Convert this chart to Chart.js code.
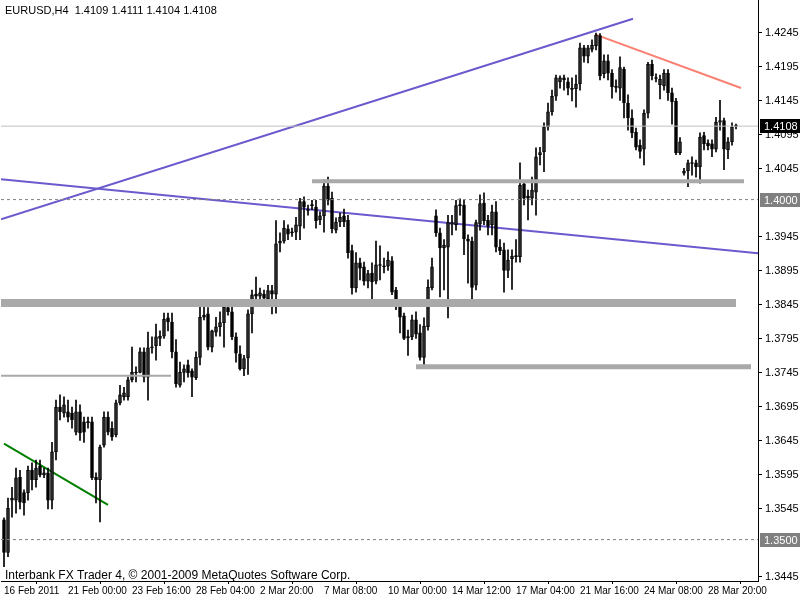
<!DOCTYPE html>
<html><head><meta charset="utf-8">
<script src="https://cdn.jsdelivr.net/npm/chart.js@4"></script>
<style>html,body{margin:0;padding:0;background:#fff}</style>
</head><body><canvas id="c" width="800" height="600"></canvas>
<script>
const opens=[1.3529,1.3481,1.3558,1.3558,1.3592,1.3569,1.3569,1.3602,1.3588,1.3608,1.3595,1.3598,1.3558,1.3629,1.3695,1.3686,1.3688,1.3686,1.3658,1.3688,1.3673,1.3673,1.3673,1.3592,1.3588,1.3639,1.3680,1.3664,1.3654,1.3701,1.3710,1.3710,
1.3735,1.3746,1.3746,1.3776,1.3739,1.3782,1.3785,1.3796,1.3799,1.3826,1.3820,1.3776,1.3727,1.3746,1.3757,1.3748,1.3738,1.3768,1.3830,1.3832,1.3783,1.3805,1.3813,1.3819,1.3841,1.3835,1.3798,1.3773,1.3751,1.3767,1.3832,1.3861,1.3858,
1.3861,1.3854,1.3866,1.3861,1.3936,1.3939,1.3957,1.3952,1.3952,1.3961,1.3997,1.3985,1.3992,1.3989,1.3970,1.3976,1.4020,1.4002,1.3955,1.3967,1.3976,1.3970,1.3925,1.3870,1.3907,1.3901,1.3880,1.3892,1.3880,1.3904,1.3902,1.3902,
1.3910,1.3867,1.3844,1.3829,1.3798,1.3798,1.3823,1.3804,1.3768,1.3813,1.3870,1.3976,1.3951,1.3929,1.3930,1.3964,1.3963,1.3992,1.3992,1.3942,1.3939,1.3874,1.3964,1.3995,1.3970,1.3963,1.3982,1.3930,1.3926,1.3896,1.3913,1.3917,1.3916,
1.4023,1.4005,1.4002,1.4011,1.4066,1.4070,1.4107,1.4129,1.4152,1.4173,1.4179,1.4173,1.4163,1.4163,1.4170,1.4223,1.4211,1.4221,1.4226,1.4241,1.4185,1.4204,1.4186,1.4166,1.4164,1.4192,1.4142,1.4120,1.4099,1.4080,
1.4074,1.4127,1.4199,1.4179,1.4169,1.4167,1.4186,1.4157,1.4145,1.4069,1.4039,1.4042,1.4054,1.4054,1.4048,1.4094,1.4083,1.4082,1.4074,1.4114,1.4116,1.4073,1.4085,1.4109];
const highs=[1.3532,1.3561,1.3577,1.3605,1.3602,1.3573,1.3608,1.3613,1.3617,1.3617,1.3605,1.3605,1.3643,1.3705,1.3713,1.3710,1.3705,1.3695,1.3705,1.3698,1.3680,1.3680,1.3680,1.3598,1.3639,1.3688,1.3688,1.3673,1.3705,1.3727,1.3724,1.3739,
1.3783,1.3754,1.3782,1.3782,1.3805,1.3798,1.3817,1.3807,1.3833,1.3833,1.3833,1.3794,1.3761,1.3757,1.3764,1.3751,1.3776,1.3842,1.3852,1.3841,1.3808,1.3827,1.3835,1.3851,1.3845,1.3845,1.3804,1.3785,1.3771,1.3838,1.3867,1.3886,1.3870,
1.3867,1.3874,1.3874,1.3969,1.3951,1.3969,1.3963,1.3958,1.3974,1.4002,1.4004,1.3992,1.3999,1.3999,1.3982,1.4029,1.4033,1.4011,1.3973,1.3980,1.3986,1.3977,1.3933,1.3922,1.3914,1.3908,1.3896,1.3907,1.3939,1.3932,1.3914,1.3923,
1.3916,1.3871,1.3849,1.3833,1.3808,1.3830,1.3835,1.3816,1.3826,1.3882,1.3914,1.3985,1.3958,1.3941,1.3977,1.3977,1.3999,1.4001,1.3999,1.3948,1.3945,1.3970,1.4007,1.4010,1.3977,1.3992,1.3997,1.3941,1.3936,1.3926,1.3926,1.3941,1.4054,
1.4026,1.4014,1.4033,1.4076,1.4077,1.4113,1.4142,1.4161,1.4183,1.4182,1.4183,1.4179,1.4179,1.4183,1.4230,1.4227,1.4227,1.4235,1.4245,1.4244,1.4213,1.4213,1.4191,1.4176,1.4210,1.4195,1.4154,1.4132,1.4105,1.4088,
1.4132,1.4202,1.4205,1.4185,1.4183,1.4191,1.4191,1.4164,1.4149,1.4091,1.4046,1.4058,1.4063,1.4058,1.4098,1.4099,1.4088,1.4088,1.4121,1.4146,1.4120,1.4091,1.4113,1.4111];
const lows=[1.3460,1.3475,1.3533,1.3539,1.3545,1.3536,1.3558,1.3573,1.3577,1.3592,1.3591,1.3545,1.3545,1.3617,1.3676,1.3680,1.3673,1.3664,1.3654,1.3646,1.3643,1.3664,1.3588,1.3554,1.3526,1.3636,1.3654,1.3646,1.3651,1.3698,1.3705,1.3705,
1.3732,1.3732,1.3745,1.3732,1.3705,1.3774,1.3764,1.3785,1.3796,1.3807,1.3767,1.3724,1.3724,1.3732,1.3739,1.3710,1.3735,1.3757,1.3823,1.3779,1.3776,1.3799,1.3799,1.3783,1.3830,1.3794,1.3761,1.3749,1.3741,1.3743,1.3804,1.3852,1.3852,
1.3845,1.3849,1.3832,1.3833,1.3923,1.3936,1.3941,1.3946,1.3941,1.3941,1.3958,1.3977,1.3985,1.3958,1.3963,1.3952,1.3992,1.3951,1.3951,1.3960,1.3960,1.3914,1.3861,1.3864,1.3882,1.3874,1.3870,1.3854,1.3876,1.3882,1.3892,1.3896,
1.3860,1.3838,1.3804,1.3794,1.3771,1.3794,1.3796,1.3764,1.3757,1.3808,1.3867,1.3946,1.3857,1.3867,1.3826,1.3948,1.3955,1.3977,1.3919,1.3877,1.3854,1.3867,1.3955,1.3963,1.3948,1.3948,1.3923,1.3919,1.3864,1.3885,1.3868,1.3908,1.3908,
1.3992,1.3970,1.3992,1.3977,1.4051,1.4041,1.4102,1.4124,1.4146,1.4164,1.4161,1.4154,1.4145,1.4136,1.4161,1.4202,1.4201,1.4217,1.4220,1.4176,1.4179,1.4176,1.4149,1.4158,1.4146,1.4120,1.4102,1.4091,1.4073,1.4061,
1.4051,1.4120,1.4176,1.4173,1.4148,1.4161,1.4146,1.4111,1.4066,1.4066,1.4036,1.4019,1.4036,1.4033,1.4024,1.4073,1.4073,1.4063,1.4070,1.4102,1.4044,1.4060,1.4080,1.4104];
const closes=[1.3481,1.3546,1.3561,1.3591,1.3555,1.3554,1.3602,1.3588,1.3605,1.3595,1.3598,1.3558,1.3629,1.3695,1.3688,1.3698,1.3680,1.3676,1.3688,1.3657,1.3658,1.3672,1.3591,1.3588,1.3636,1.3680,1.3658,1.3651,1.3701,1.3713,1.3716,1.3735,
1.3746,1.3745,1.3776,1.3739,1.3782,1.3783,1.3798,1.3799,1.3824,1.3820,1.3776,1.3729,1.3746,1.3751,1.3745,1.3739,1.3768,1.3827,1.3827,1.3783,1.3807,1.3813,1.3819,1.3842,1.3835,1.3798,1.3774,1.3751,1.3766,1.3832,1.3860,1.3858,1.3863,
1.3855,1.3866,1.3861,1.3935,1.3939,1.3958,1.3949,1.3951,1.3963,1.3997,1.3989,1.3984,1.3991,1.3969,1.3976,1.4020,1.3999,1.3957,1.3967,1.3974,1.3967,1.3922,1.3870,1.3907,1.3899,1.3880,1.3891,1.3879,1.3904,1.3903,1.3901,1.3911,
1.3864,1.3842,1.3827,1.3796,1.3797,1.3823,1.3802,1.3768,1.3814,1.3871,1.3901,1.3951,1.3929,1.3933,1.3966,1.3966,1.3991,1.3991,1.3942,1.3939,1.3871,1.3966,1.3994,1.3969,1.3961,1.3982,1.3930,1.3925,1.3896,1.3911,1.3917,1.3916,1.4021,
1.4002,1.4002,1.4014,1.4063,1.4069,1.4107,1.4129,1.4152,1.4179,1.4179,1.4176,1.4164,1.4162,1.4170,1.4223,1.4211,1.4223,1.4227,1.4242,1.4182,1.4204,1.4186,1.4166,1.4165,1.4194,1.4142,1.4120,1.4098,1.4077,1.4071,
1.4127,1.4199,1.4182,1.4178,1.4177,1.4186,1.4157,1.4144,1.4069,1.4085,1.4042,1.4054,1.4053,1.4048,1.4092,1.4082,1.4079,1.4074,1.4114,1.4116,1.4074,1.4085,1.4107,1.4108];
const yTicks=[1.4245,1.4195,1.4145,1.4095,1.4045,1.3945,1.3895,1.3845,1.3795,1.3745,1.3695,1.3645,1.3595,1.3545,1.3445];
const xTickIdx=[0,16,32,48,64,80,96,112,128,144,160,176];
const xTickLabels=['16 Feb 2011','21 Feb 00:00','23 Feb 16:00','28 Feb 04:00','2 Mar 20:00','7 Mar 08:00','10 Mar 00:00','14 Mar 12:00','17 Mar 04:00','21 Mar 16:00','24 Mar 08:00','28 Mar 20:00'];
const priceBoxes=[{v:1.4108,bg:'#000000'},{v:1.4000,bg:'#808080'},{v:1.3500,bg:'#808080'}];
const trendBlueUp=[{x:-0.75,y:1.3971},{x:157.25,y:1.4266}];
const trendBlueDown=[{x:-0.75,y:1.4030},{x:188.5,y:1.3921}];
const trendRed=[{x:147.75,y:1.4243},{x:184.25,y:1.4164}];
const trendGreen=[{x:0,y:1.3641},{x:26,y:1.3551}];
const levelA=[{x:77,y:1.4027},{x:185,y:1.4027}];
const levelB=[{x:-0.75,y:1.3848},{x:183,y:1.3848}];
const levelC=[{x:103,y:1.3754},{x:186.75,y:1.3754}];
const levelD=[{x:-0.75,y:1.3741},{x:41.75,y:1.3741}];
const curLine=[{x:-0.75,y:1.4108},{x:188.5,y:1.4108}];
const dash1=[{x:-0.75,y:1.4000},{x:188.5,y:1.4000}];
const dash2=[{x:-0.75,y:1.3500},{x:188.5,y:1.3500}];

const wick=lows.map((l,i)=>({x:i,y:[l,highs[i]]}));
const body=opens.map((o,i)=>({x:i,y:[o,closes[i]]}));
const bodyBg=opens.map((o,i)=>closes[i]>=o?'#ffffff':'#000000');
const ln=(d,c,w,extra)=>Object.assign({type:'line',data:d,borderColor:c,borderWidth:w,pointRadius:0,fill:false,tension:0,borderCapStyle:'butt'},extra||{});

const overlay={id:'ov',afterDraw(ch){const c=ch.ctx,ys=ch.scales.y;c.save();
 c.font='11px "Liberation Sans"';c.textBaseline='middle';
 priceBoxes.forEach(b=>{const y=Math.round(ys.getPixelForValue(b.v));c.fillStyle=b.bg;c.fillRect(760,y-7,40,14);c.fillStyle='#fff';c.fillText(b.v.toFixed(4),764,y+0.5);});
 c.fillStyle='#000';c.font='11px "Liberation Sans"';c.fillText('EURUSD,H4  1.4109 1.4111 1.4104 1.4108',5,11);
 c.font='12px "Liberation Sans"';c.fillText('Interbank FX Trader 4, \u00a9 2001-2009 MetaQuotes Software Corp.',5,576);
 c.restore();}};

new Chart(document.getElementById('c'),{type:'bar',
 data:{datasets:[
  ln(dash1,'#808080',1,{borderDash:[3,3]}),ln(dash2,'#808080',1,{borderDash:[3,3]}),ln(curLine,'#c0c0c0',1),
  ln(levelA,'#a9a9a9',4),ln(levelB,'#a9a9a9',8),ln(levelC,'#a9a9a9',5),ln(levelD,'#a9a9a9',2),
  {type:'bar',data:wick,backgroundColor:'#000',barThickness:1,grouped:false,borderWidth:0},
  {type:'bar',data:body,backgroundColor:bodyBg,borderColor:'#000',borderWidth:1,borderSkipped:false,barThickness:3,grouped:false,minBarLength:1},
  ln(trendBlueUp,'#6a5acd',2),ln(trendBlueDown,'#6a5acd',2),ln(trendRed,'#fa8072',2),ln(trendGreen,'#008000',2)
 ]},
 options:{responsive:false,animation:false,maintainAspectRatio:false,devicePixelRatio:1,
  layout:{padding:{left:1,top:0,right:0,bottom:0}},
  plugins:{legend:{display:false},tooltip:{enabled:false}},
  scales:{
   x:{type:'linear',min:-0.75,max:188.5,offset:false,
    afterBuildTicks:s=>{s.ticks=xTickIdx.map(v=>({value:v}));},
    afterFit:s=>{s.height=19;s.paddingLeft=0;s.paddingRight=0;},
    grid:{drawOnChartArea:false,drawTicks:true,tickLength:3,color:'#000'},
    border:{color:'#000'},
    ticks:{autoSkip:false,maxRotation:0,align:'start',padding:1,color:'#000',font:{family:'Liberation Sans',size:10},callback:(v)=>xTickLabels[xTickIdx.indexOf(v)]}},
   y:{position:'right',min:1.34391,max:1.42935,
    afterBuildTicks:s=>{s.ticks=yTicks.map(v=>({value:v}));},
    afterFit:s=>{s.width=42;s.paddingTop=0;s.paddingBottom=0;},
    grid:{drawOnChartArea:false,drawTicks:true,tickLength:4,color:'#000'},
    border:{color:'#000'},
    ticks:{padding:3,color:'#000',font:{family:'Liberation Sans',size:11},callback:v=>v.toFixed(4)}}
  }},
 plugins:[overlay]});
</script></body></html>
